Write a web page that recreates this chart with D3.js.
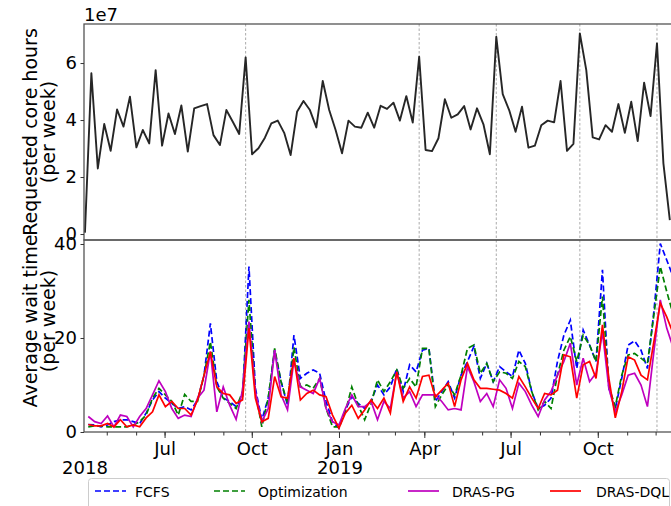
<!DOCTYPE html>
<html>
<head>
<meta charset="utf-8">
<script src="https://cdn.jsdelivr.net/npm/d3@7"></script>
<style>
body { margin: 0; background: #fff; }
svg { font-family: "DejaVu Sans", sans-serif; }
</style>
</head>
<body>
<div id="chart"></div>
<script>
// weekly samples, first and last week
const firstWeek = new Date(Date.UTC(2018, 3, 8))
const lastWeek = new Date(Date.UTC(2019, 11, 16))

// requested core hours per week (x 1e7)
const coreHours = [0.05, 5.64, 2.30, 3.86, 2.92, 4.37, 3.77, 4.82, 3.04, 3.65,
    3.18, 5.75, 3.10, 4.23, 3.51, 4.51, 2.89, 4.41, 4.49, 4.56,
    3.47, 3.12, 4.35, 3.94, 3.51, 6.20, 2.80, 3.01, 3.38, 3.88,
    3.98, 3.55, 2.77, 4.29, 4.67, 4.35, 3.74, 5.37, 4.35, 3.65,
    2.83, 3.98, 3.77, 3.73, 4.26, 3.73, 4.50, 4.39, 4.61, 3.98,
    4.84, 3.91, 6.22, 2.95, 2.91, 3.36, 4.73, 4.08, 4.20, 4.49,
    3.67, 4.41, 3.85, 2.80, 6.92, 4.91, 4.35, 3.59, 4.47, 3.03,
    3.10, 3.82, 3.98, 3.92, 5.37, 2.92, 3.16, 7.04, 5.75, 3.39,
    3.32, 3.82, 3.59, 4.56, 3.55, 4.64, 3.26, 5.31, 4.14, 6.69,
    2.48, 0.49]

// average wait time per week
const fcfs = [1.6, 1.5, 1.1, 1.5, 2.2, 2.6, 2.6, 2.2, 1.8, 4.0,
    6.8, 8.6, 7.2, 6.1, 5.0, 5.4, 4.7, 6.8, 12.0, 23.1,
    10.7, 7.2, 6.5, 5.4, 7.2, 35.2, 9.3, 2.6, 7.2, 17.4,
    10.7, 5.7, 20.6, 11.4, 12.5, 13.2, 12.5, 6.5, 2.2, 0.8,
    4.7, 7.5, 6.1, 5.0, 6.6, 10.0, 7.9, 9.6, 13.5, 8.6,
    14.3, 12.8, 17.4, 17.8, 6.5, 8.6, 10.7, 7.2, 12.1, 15.0,
    18.2, 11.4, 14.6, 10.7, 13.9, 12.8, 11.8, 17.4, 14.6, 8.6,
    5.0, 5.7, 7.2, 15.0, 20.6, 23.8, 13.5, 21.7, 18.5, 15.0,
    34.5, 9.3, 5.0, 11.4, 18.5, 19.4, 17.4, 13.5, 25.6, 40.1,
    36.6, 33.0]
const optimization = [1.1, 1.3, 1.3, 1.1, 1.1, 1.1, 1.1, 1.5, 2.2, 3.6,
    7.2, 9.3, 7.9, 6.5, 3.6, 8.0, 6.5, 6.5, 12.0, 19.2,
    9.6, 7.2, 6.1, 5.0, 8.6, 28.1, 8.6, 1.1, 7.2, 17.8,
    10.7, 6.1, 18.0, 9.6, 10.0, 9.3, 11.4, 5.0, 1.1, 1.1,
    4.3, 9.6, 5.7, 2.6, 6.0, 11.1, 8.6, 10.7, 13.2, 9.3,
    11.4, 9.6, 17.8, 17.8, 5.4, 7.9, 10.0, 7.9, 12.1, 17.8,
    18.5, 12.5, 14.6, 10.7, 12.8, 12.5, 11.4, 15.0, 13.9, 8.6,
    4.7, 6.5, 5.0, 12.1, 17.4, 20.3, 15.0, 20.6, 18.5, 15.0,
    28.8, 9.6, 5.4, 12.1, 16.4, 16.7, 15.7, 14.6, 24.9, 35.2,
    29.9, 25.0]
const drasPG = [3.3, 2.2, 1.8, 3.4, 1.1, 3.6, 3.3, 1.1, 3.3, 5.0,
    7.9, 10.9, 8.6, 5.0, 2.9, 3.6, 3.3, 7.2, 8.9, 17.1,
    4.3, 9.6, 5.7, 2.7, 8.9, 23.5, 8.6, 2.2, 5.0, 17.4,
    7.9, 4.7, 15.3, 9.6, 8.9, 8.2, 11.4, 5.0, 2.2, 1.5,
    5.0, 7.9, 5.4, 5.4, 6.5, 2.6, 6.5, 5.0, 12.8, 7.2,
    8.6, 5.4, 7.9, 7.9, 7.9, 6.5, 4.7, 5.0, 4.7, 13.9,
    10.7, 6.5, 8.2, 5.4, 11.1, 9.3, 5.0, 10.4, 8.6, 5.7,
    3.3, 6.8, 8.6, 12.1, 15.0, 18.9, 10.0, 15.7, 10.7, 12.5,
    21.3, 9.3, 4.3, 7.9, 12.1, 12.5, 10.0, 5.4, 17.1, 28.1,
    22.1, 18.0]
const drasDQL = [1.6, 1.3, 1.3, 1.8, 1.1, 2.6, 1.1, 1.5, 1.1, 3.0,
    4.3, 7.9, 5.4, 6.5, 5.0, 5.0, 3.6, 6.8, 12.0, 17.1,
    9.6, 8.2, 7.9, 6.1, 6.8, 22.1, 7.2, 2.2, 2.9, 11.8,
    7.5, 7.2, 15.7, 6.8, 8.2, 8.9, 7.9, 7.5, 3.6, 0.8,
    4.0, 5.7, 2.9, 4.7, 6.8, 5.0, 7.2, 4.0, 12.8, 6.5,
    9.6, 7.2, 11.8, 12.1, 7.5, 8.9, 10.4, 5.4, 11.1, 14.6,
    11.1, 9.3, 9.3, 9.1, 8.9, 8.2, 7.2, 11.8, 9.6, 7.2,
    5.0, 8.2, 7.9, 8.9, 16.4, 16.0, 7.2, 14.3, 15.0, 11.4,
    22.8, 11.4, 3.0, 8.6, 16.0, 15.3, 12.1, 11.1, 19.2, 27.4,
    24.5, 21.0]

// weeks (index) with the demand peaks, marked by dashed lines
const peakWeeks = [25, 52, 64, 77, 89]
// wait times are plotted half a week later than the demand
const waitShiftDays = 3.5

const seriesNames = ["FCFS", "Optimization", "DRAS-PG", "DRAS-DQL"]
const seriesColors = ["#0000ff", "#008000", "#bf00bf", "#ff0000"]
const seriesDashed = [true, true, false, false]
const seriesValues = [fcfs, optimization, drasPG, drasDQL]

const coreTicks = [0, 2, 4, 6]
const waitTicks = [0, 20, 40]

const dimensions = {
    width: 671,
    height: 506,
    left: 84,
    right: 685,
    topPanel: [24, 240],
    bottomPanel: [240, 432],
}

const weeks = d3.range(coreHours.length)
    .map(i => new Date(+firstWeek + i * (lastWeek - firstWeek) / (coreHours.length - 1)))
const waitWeeks = weeks.map(d => new Date(+d + waitShiftDays * 864e5))

const svg = d3.select("#chart").append("svg")
    .attr("width", dimensions.width)
    .attr("height", dimensions.height)

const xScale = d3.scaleUtc()
    .domain([new Date(Date.UTC(2018, 3, 7)), new Date(Date.UTC(2020, 0, 1))])
    .range([dimensions.left, dimensions.right])
const yTop = d3.scaleLinear()
    .domain([-0.21, 7.37])
    .range([dimensions.topPanel[1], dimensions.topPanel[0]])
const yBottom = d3.scaleLinear()
    .domain([0, 40.85])
    .range([dimensions.bottomPanel[1], dimensions.bottomPanel[0]])

svg.append("defs").append("clipPath").attr("id", "plot-clip")
    .append("rect")
    .attr("x", dimensions.left)
    .attr("y", dimensions.topPanel[0])
    .attr("width", dimensions.right - dimensions.left)
    .attr("height", dimensions.bottomPanel[1] - dimensions.topPanel[0])

// dashed markers at demand peaks
svg.append("g")
    .selectAll("line")
    .data(peakWeeks)
    .join("line")
    .attr("x1", d => xScale(weeks[d]))
    .attr("x2", d => xScale(weeks[d]))
    .attr("y1", dimensions.topPanel[0])
    .attr("y2", dimensions.bottomPanel[1])
    .attr("stroke", "#a0a0a0")
    .attr("stroke-width", 0.9)
    .attr("stroke-dasharray", "2.5,2")

const plot = svg.append("g").attr("clip-path", "url(#plot-clip)")

const coreLine = d3.line()
    .x((d, i) => xScale(weeks[i]))
    .y(d => yTop(d))
plot.append("path")
    .attr("d", coreLine(coreHours))
    .attr("fill", "none")
    .attr("stroke", "#262626")
    .attr("stroke-width", 1.9)
    .attr("stroke-linejoin", "round")

const waitLine = d3.line()
    .x((d, i) => xScale(waitWeeks[i]))
    .y(d => yBottom(d))
seriesValues.forEach((values, k) => {
    plot.append("path")
        .attr("d", waitLine(values))
        .attr("fill", "none")
        .attr("stroke", seriesColors[k])
        .attr("stroke-width", 1.7)
        .attr("stroke-dasharray", seriesDashed[k] ? "6,3" : null)
})

// frames of both panels
const frame = svg.append("g")
    .attr("fill", "none")
    .attr("stroke", "#555")
    .attr("stroke-width", 1.3)
frame.append("rect")
    .attr("x", dimensions.left)
    .attr("y", dimensions.topPanel[0])
    .attr("width", dimensions.right - dimensions.left)
    .attr("height", dimensions.topPanel[1] - dimensions.topPanel[0])
frame.append("rect")
    .attr("x", dimensions.left)
    .attr("y", dimensions.bottomPanel[0])
    .attr("width", dimensions.right - dimensions.left)
    .attr("height", dimensions.bottomPanel[1] - dimensions.bottomPanel[0])

// y axes
const topAxis = svg.append("g")
    .attr("transform", "translate(" + dimensions.left + ",0)")
    .call(d3.axisLeft(yTop).tickValues(coreTicks).tickFormat(d3.format("d")).tickSize(3.5).tickPadding(3.5))
const bottomAxis = svg.append("g")
    .attr("transform", "translate(" + dimensions.left + ",0)")
    .call(d3.axisLeft(yBottom).tickValues(waitTicks).tickFormat(d3.format("d")).tickSize(3.5).tickPadding(3.5))

// x axis: monthly minor ticks, quarterly labels (only the visible part)
const visibleEnd = xScale.invert(dimensions.width)
const monthTicks = d3.utcMonth.range(xScale.domain()[0], visibleEnd)
const quarterTicks = monthTicks.filter(d => d.getUTCMonth() % 3 === 0)
const minorAxis = svg.append("g")
    .attr("transform", "translate(0," + dimensions.bottomPanel[1] + ")")
    .call(d3.axisBottom(xScale).tickValues(monthTicks).tickFormat("").tickSize(3.5))
const majorAxis = svg.append("g")
    .attr("transform", "translate(0," + dimensions.bottomPanel[1] + ")")
    .call(d3.axisBottom(xScale).tickValues(quarterTicks).tickFormat(d3.utcFormat("%b")).tickSize(6).tickPadding(4))

;[topAxis, bottomAxis, minorAxis, majorAxis].forEach(g => {
    g.select(".domain").remove()
    g.selectAll(".tick line").attr("stroke", "#333").attr("stroke-width", 1)
    g.selectAll("text").attr("font-size", 18).attr("fill", "#000")
        .attr("font-family", "DejaVu Sans, sans-serif")
})

// year row under the month labels
const yearLabels = [
    {date: xScale.domain()[0], label: "2018"},
    {date: new Date(Date.UTC(2019, 0, 1)), label: "2019"},
]
svg.append("g")
    .selectAll("text")
    .data(yearLabels)
    .join("text")
    .attr("x", d => xScale(d.date) + 1)
    .attr("y", 474)
    .attr("text-anchor", "middle")
    .attr("font-size", 18)
    .text(d => d.label)

// scale offset of the top panel
svg.append("text")
    .attr("x", dimensions.left)
    .attr("y", 21)
    .attr("font-size", 18)
    .text("1e7")

// y labels
const yLabels = [
    {lines: ["Requested core hours", "(per week)"], y: 132},
    {lines: ["Average wait time", "(per week)"], y: 321},
]
yLabels.forEach(item => {
    const t = svg.append("text")
        .attr("transform", "translate(37," + item.y + ") rotate(-90)")
        .attr("text-anchor", "middle")
        .attr("font-size", 19)
    item.lines.forEach((line, i) => {
        t.append("tspan")
            .attr("x", 0)
            .attr("dy", i === 0 ? 0 : 18)
            .text(line)
    })
})

// legend
const legend = svg.append("g")
legend.append("rect")
    .attr("x", 88.5)
    .attr("y", 478.5)
    .attr("width", 581)
    .attr("height", 40)
    .attr("rx", 3)
    .attr("fill", "#fff")
    .attr("stroke", "#cccccc")
const legendLineX = [95, 214, 408, 550]
const legendTextX = [135, 258, 452, 596]
seriesNames.forEach((name, k) => {
    legend.append("line")
        .attr("x1", legendLineX[k])
        .attr("x2", legendLineX[k] + 31)
        .attr("y1", 491)
        .attr("y2", 491)
        .attr("stroke", seriesColors[k])
        .attr("stroke-width", 1.7)
        .attr("stroke-dasharray", seriesDashed[k] ? "6,3" : null)
    legend.append("text")
        .attr("x", legendTextX[k])
        .attr("y", 496.5)
        .attr("font-size", 14)
        .text(name)
})
</script>
</body>
</html>
